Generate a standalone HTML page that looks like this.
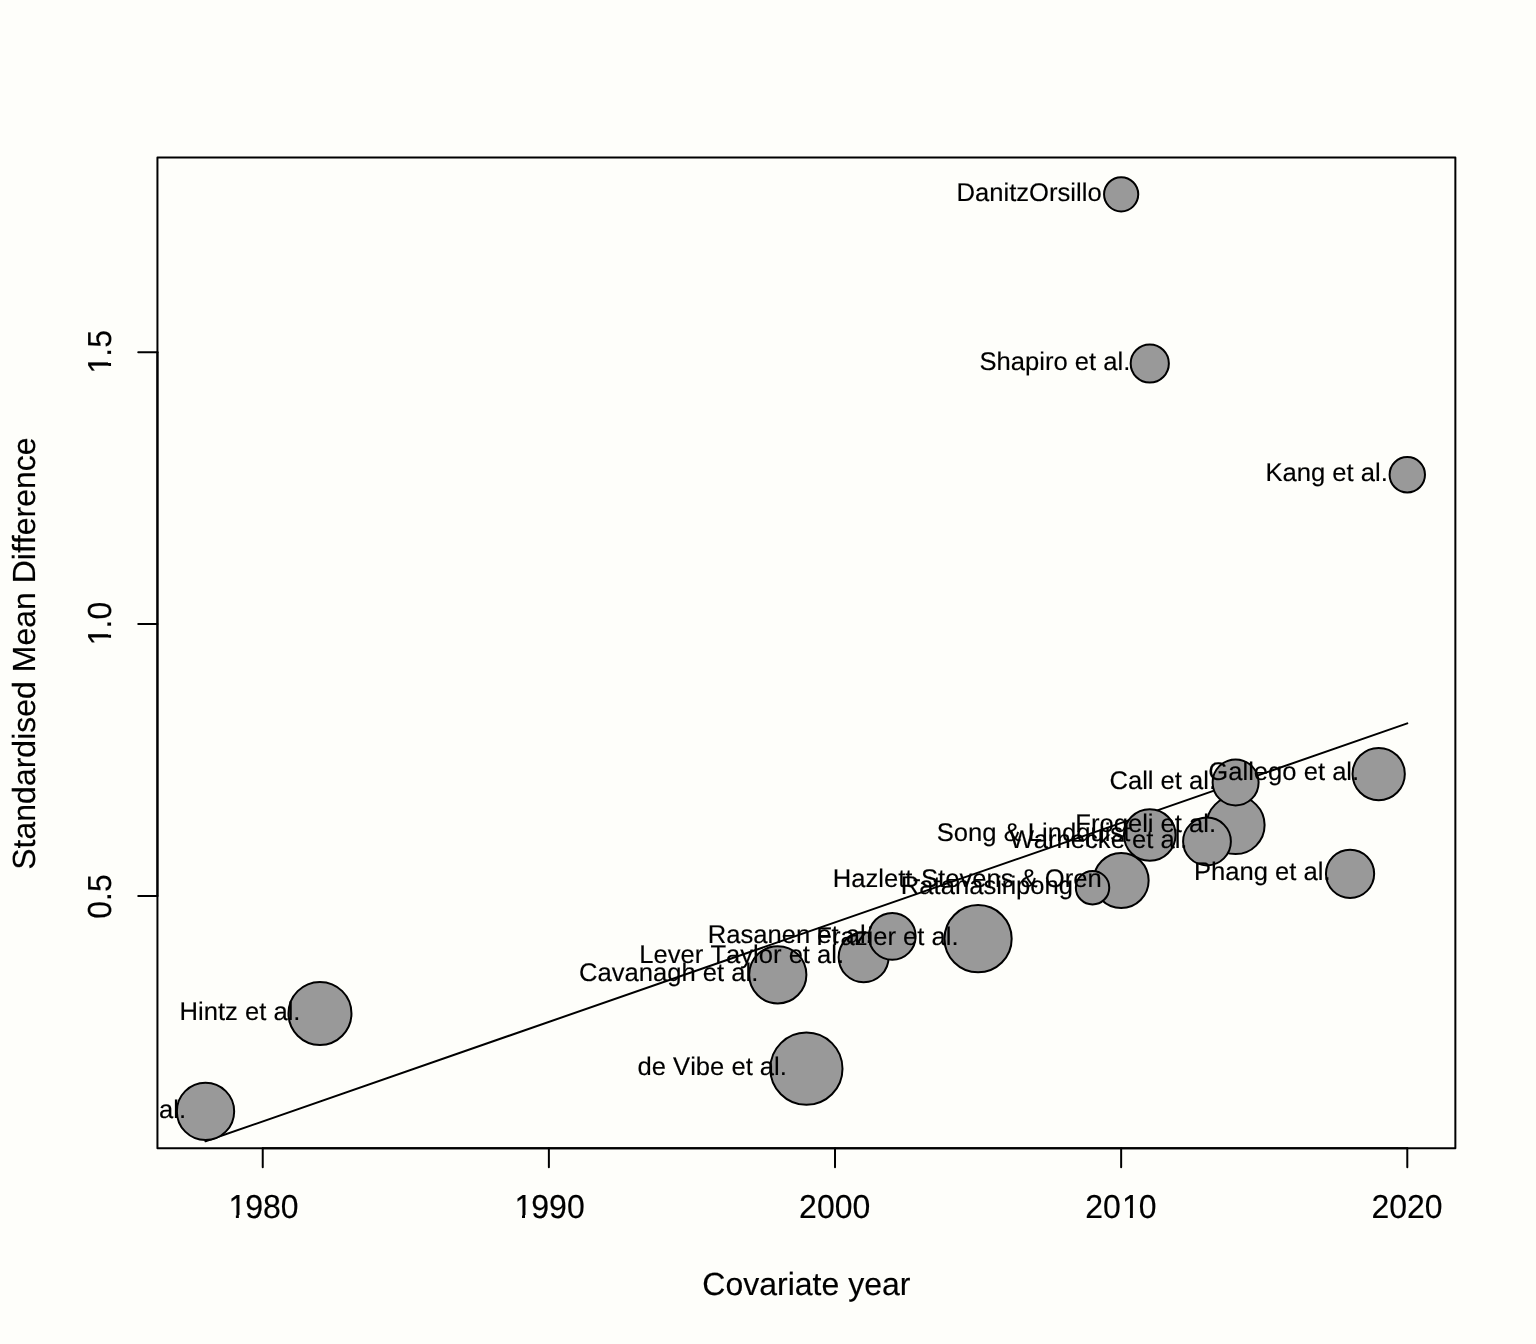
<!DOCTYPE html>
<html lang="en">
<head>
<meta charset="utf-8">
<title>Bubble plot: Standardised Mean Difference by Covariate year</title>
<style>
html,body{margin:0;padding:0;background:#fefefa;}
body{width:1536px;height:1344px;overflow:hidden;}
svg{display:block;}
text{font-family:"Liberation Sans", Arial, Helvetica, sans-serif;fill:#000;text-rendering:geometricPrecision;font-kerning:none;font-variant-ligatures:none;letter-spacing:0;stroke:#000;stroke-width:0.15;}
.ax{font-size:32px;}
.lab{font-size:25.6px;text-anchor:end;}
.ln{stroke:#000;stroke-width:2;fill:none;stroke-linecap:round;stroke-linejoin:round;}
.pt{fill:#999999;stroke:#000;stroke-width:2;}
</style>
</head>
<body>
<svg width="1536" height="1344" viewBox="0 0 1536 1344" role="img" aria-label="Bubble plot of standardised mean difference against covariate year">
<rect x="0" y="0" width="1536" height="1344" fill="#fefefa"/>
<defs>
<clipPath id="plotclip"><rect x="157.44" y="157.44" width="1297.92" height="990.72"/></clipPath>
</defs>
<g clip-path="url(#plotclip)">
<g id="regline">
<line class="ln" x1="205.51" y1="1141.30" x2="1407.29" y2="723.40"/>
</g>
<g id="bubbles">
<circle class="pt" cx="806.40" cy="1068.65" r="36.10"/>
<circle class="pt" cx="978.08" cy="938.70" r="33.60"/>
<circle class="pt" cx="319.97" cy="1013.40" r="31.50"/>
<circle class="pt" cx="1235.61" cy="825.10" r="29.00"/>
<circle class="pt" cx="205.51" cy="1111.40" r="28.65"/>
<circle class="pt" cx="777.79" cy="974.80" r="28.60"/>
<circle class="pt" cx="1121.15" cy="880.50" r="27.50"/>
<circle class="pt" cx="1378.68" cy="774.05" r="26.15"/>
<circle class="pt" cx="1149.77" cy="835.00" r="25.80"/>
<circle class="pt" cx="863.63" cy="957.20" r="25.00"/>
<circle class="pt" cx="1350.06" cy="873.80" r="24.10"/>
<circle class="pt" cx="1206.99" cy="841.50" r="23.90"/>
<circle class="pt" cx="892.24" cy="936.30" r="23.40"/>
<circle class="pt" cx="1235.61" cy="782.40" r="23.00"/>
<circle class="pt" cx="1149.77" cy="363.50" r="19.10"/>
<circle class="pt" cx="1407.29" cy="474.70" r="17.70"/>
<circle class="pt" cx="1121.15" cy="194.30" r="17.10"/>
<circle class="pt" cx="1092.54" cy="887.70" r="16.70"/>
</g>
<g id="labels">
<text class="lab" x="186.01" y="1118">al.</text>
<text class="lab" x="300.47" y="1020">Hintz et al.</text>
<text class="lab" x="758.29" y="981">Cavanagh et al.</text>
<text class="lab" x="786.90" y="1075">de Vibe et al.</text>
<text class="lab" x="844.13" y="963">Lever Taylor et al.</text>
<text class="lab" x="872.74" y="943">Rasanen et al.</text>
<text class="lab" x="958.58" y="945">Frazier et al.</text>
<text class="lab" x="1073.04" y="894">Ratanasiripong</text>
<text class="lab" x="1101.65" y="887">Hazlett-Stevens &amp; Oren</text>
<text class="lab" x="1101.65" y="201">DanitzOrsillo</text>
<text class="lab" x="1130.27" y="370">Shapiro et al.</text>
<text class="lab" x="1130.27" y="841">Song &amp; Lindquist</text>
<text class="lab" x="1187.49" y="848">Warnecke et al.</text>
<text class="lab" x="1216.11" y="789">Call et al.</text>
<text class="lab" x="1216.11" y="832">Frogeli et al.</text>
<text class="lab" x="1330.56" y="880">Phang et al.</text>
<text class="lab" x="1359.18" y="780">Gallego et al.</text>
<text class="lab" x="1387.79" y="481">Kang et al.</text>
</g>
</g>
<rect class="ln" x="157.44" y="157.44" width="1297.92" height="990.72"/>
<g id="xaxis">
<line class="ln" x1="262.74" y1="1148.16" x2="1407.29" y2="1148.16"/>
<line class="ln" x1="262.74" y1="1148.16" x2="262.74" y2="1167.36"/>
<text class="ax" text-anchor="middle" transform="translate(262.44 1218.00) scale(1 1.040)" clip-path="url(#one0)"><tspan dx="1.05">1</tspan><tspan dx="-1.05">980</tspan></text>
<line class="ln" x1="548.88" y1="1148.16" x2="548.88" y2="1167.36"/>
<text class="ax" text-anchor="middle" transform="translate(548.58 1218.00) scale(1 1.040)" clip-path="url(#one1)"><tspan dx="1.05">1</tspan><tspan dx="-1.05">990</tspan></text>
<line class="ln" x1="835.01" y1="1148.16" x2="835.01" y2="1167.36"/>
<text class="ax" text-anchor="middle" transform="translate(834.71 1218.00) scale(1 1.040)">2000</text>
<line class="ln" x1="1121.15" y1="1148.16" x2="1121.15" y2="1167.36"/>
<text class="ax" text-anchor="middle" transform="translate(1120.85 1218.00) scale(1 1.040)" clip-path="url(#one2)">20<tspan dx="1.05">1</tspan><tspan dx="-1.05">0</tspan></text>
<line class="ln" x1="1407.29" y1="1148.16" x2="1407.29" y2="1167.36"/>
<text class="ax" text-anchor="middle" transform="translate(1406.99 1218.00) scale(1 1.040)">2020</text>
<text class="ax" text-anchor="middle" x="806.40" y="1295.00">Covariate year</text>
</g>
<g id="yaxis">
<line class="ln" x1="157.44" y1="896.00" x2="157.44" y2="352.25"/>
<line class="ln" x1="138.24" y1="896.00" x2="157.44" y2="896.00"/>
<text class="ax" text-anchor="middle" transform="translate(111.00 896.50) rotate(-90) scale(1 1.040)">0.5</text>
<line class="ln" x1="138.24" y1="624.00" x2="157.44" y2="624.00"/>
<text class="ax" text-anchor="middle" transform="translate(111.00 624.50) rotate(-90) scale(1 1.040)" clip-path="url(#one3)"><tspan dx="1.05">1</tspan><tspan dx="-1.05">.0</tspan></text>
<line class="ln" x1="138.24" y1="352.25" x2="157.44" y2="352.25"/>
<text class="ax" text-anchor="middle" transform="translate(111.00 352.75) rotate(-90) scale(1 1.040)" clip-path="url(#one4)"><tspan dx="1.05">1</tspan><tspan dx="-1.05">.5</tspan></text>
<text class="ax" text-anchor="middle" transform="translate(34.50 653.60) rotate(-90)">Standardised Mean Difference</text>
</g>
<defs>
<clipPath id="one0"><rect x="-80" y="-40" width="160" height="37.117"/><rect x="-26.577" y="-3.383" width="2.988" height="3.883"/><rect x="-17.439" y="-40" width="80" height="52"/></clipPath>
<clipPath id="one1"><rect x="-80" y="-40" width="160" height="37.117"/><rect x="-26.577" y="-3.383" width="2.988" height="3.883"/><rect x="-17.576" y="-40" width="80" height="52"/></clipPath>
<clipPath id="one2"><rect x="-80" y="-40" width="160" height="37.117"/><rect x="9.017" y="-3.383" width="2.988" height="3.883"/><rect x="-80" y="-40" width="83.149" height="52"/><rect x="18.149" y="-40" width="80" height="52"/></clipPath>
<clipPath id="one3"><rect x="-80" y="-40" width="160" height="37.117"/><rect x="-13.225" y="-3.383" width="2.988" height="3.883"/><rect x="-4.500" y="-40" width="80" height="52"/></clipPath>
<clipPath id="one4"><rect x="-80" y="-40" width="160" height="37.117"/><rect x="-13.225" y="-3.383" width="2.988" height="3.883"/><rect x="-4.250" y="-40" width="80" height="52"/></clipPath>
</defs>
</svg>
</body>
</html>
